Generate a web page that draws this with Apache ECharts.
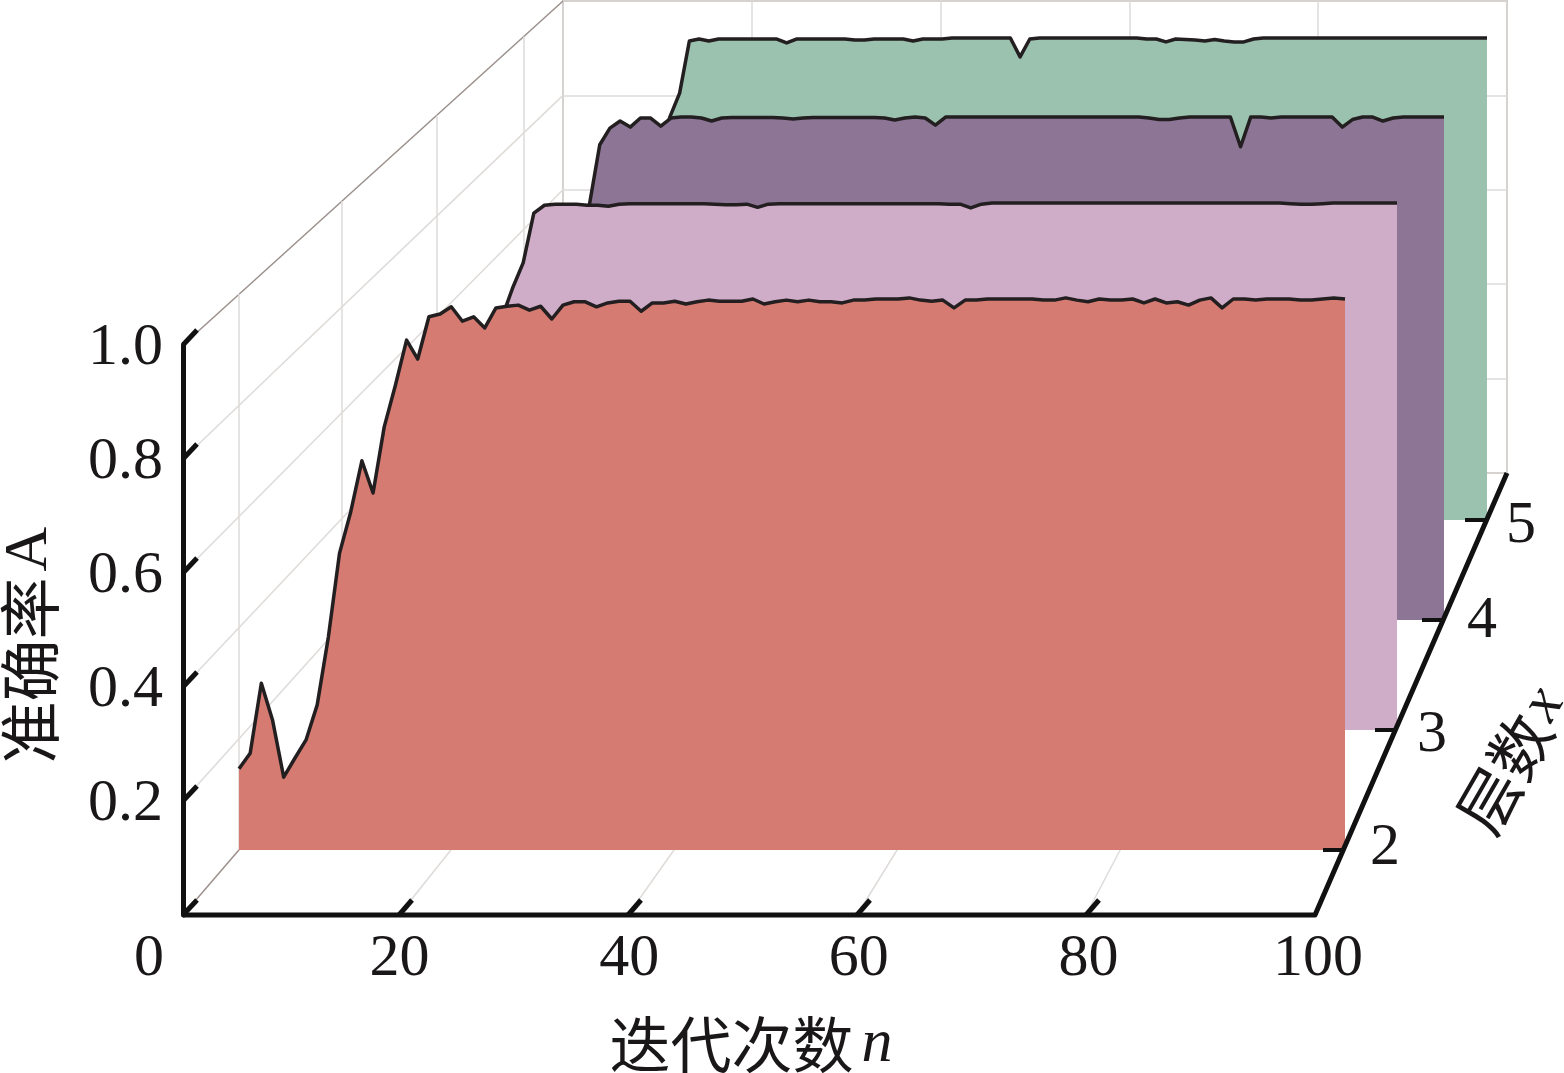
<!DOCTYPE html>
<html>
<head>
<meta charset="utf-8">
<style>html,body{margin:0;padding:0;background:#fff}#c{width:1564px;height:1073px}</style>
<script src="https://cdn.jsdelivr.net/npm/echarts@6/dist/echarts.min.js"></script>
</head>
<body>
<div id="c"></div>
<script>
const iterations = Array.from({length: 100}, (_, i) => i + 1);
const xTicks = [0, 20, 40, 60, 80, 100];
const yTicks = [0, 0.2, 0.4, 0.6, 0.8, 1.0];
const layerNames = ['2', '3', '4', '5'];

const layer2 = [
 .146,.174,.300,.234,.131,.165,.198,.261,.383,.534,
 .608,.700,.642,.761,.836,.917,.883,.959,.964,.977,
 .951,.959,.939,.975,.978,.980,.971,.978,.955,.980,
 .986,.986,.977,.984,.987,.987,.969,.984,.984,.987,
 .982,.986,.989,.987,.987,.987,.991,.982,.986,.989,
 .986,.989,.986,.986,.984,.989,.989,.991,.991,.991,
 .993,.989,.987,.989,.975,.989,.989,.991,.991,.991,
 .991,.991,.989,.989,.993,.989,.986,.991,.989,.989,
 .991,.984,.991,.984,.986,.980,.989,.993,.975,.991,
 .991,.989,.991,.991,.991,.989,.989,.991,.993,.991];
const layer3 = [
 .130,.160,.240,.200,.150,.200,.260,.340,.420,.500,
 .570,.620,.660,.700,.740,.779,.835,.883,.977,.992,
 .994,.994,.994,.992,.992,.990,.994,.995,.995,.995,
 .995,.995,.995,.995,.995,.994,.993,.993,.994,.988,
 .994,.995,.995,.995,.995,.995,.995,.995,.995,.995,
 .995,.995,.995,.995,.995,.995,.995,.994,.994,.987,
 .994,.996,.996,.996,.996,.996,.996,.996,.996,.996,
 .996,.996,.996,.996,.996,.996,.996,.996,.996,.996,
 .996,.996,.996,.996,.996,.996,.996,.996,.996,.995,
 .994,.994,.995,.996,.996,.996,.996,.996,.996,.996];
const layer4 = [
 .120,.160,.240,.200,.150,.200,.260,.330,.420,.520,
 .600,.660,.700,.740,.780,.825,.942,.975,.989,.977,
 .995,.995,.979,.995,.997,.997,.995,.989,.995,.996,
 .996,.996,.996,.996,.995,.993,.995,.996,.996,.996,
 .996,.996,.996,.996,.995,.991,.995,.997,.995,.981,
 .997,.997,.997,.997,.997,.997,.997,.997,.997,.997,
 .997,.997,.997,.997,.997,.997,.997,.997,.997,.997,
 .995,.992,.992,.995,.997,.997,.997,.997,.997,.938,
 .997,.997,.995,.997,.997,.997,.997,.997,.997,.977,
 .992,.997,.997,.989,.995,.997,.997,.997,.997,.997];
const layer5 = [
 .120,.160,.240,.200,.150,.200,.260,.340,.420,.500,
 .560,.620,.680,.720,.760,.834,.883,.991,.995,.991,
 .995,.995,.995,.995,.995,.995,.995,.987,.995,.995,
 .995,.995,.995,.995,.993,.993,.995,.995,.995,.995,
 .991,.995,.995,.995,.997,.997,.997,.997,.997,.997,
 .997,.958,.995,.997,.997,.997,.997,.997,.997,.997,
 .997,.997,.997,.997,.995,.995,.989,.995,.994,.993,
 .991,.994,.991,.989,.989,.995,.997,.997,.997,.997,
 .997,.997,.997,.997,.997,.997,.997,.997,.997,.997,
 .997,.997,.997,.997,.997,.997,.997,.997,.997,.997];

const colors = ['#D57B72', '#CFADC8', '#8D7596', '#9BC1AF'];
const seriesValues = [layer2, layer3, layer4, layer5];

// plane rectangles in depth order (front to back)
const planes = [
  {left: 239, right: 1345, top: 294, bottom: 850},
  {left: 342, right: 1397, top: 201, bottom: 730},
  {left: 437, right: 1444, top: 115.5, bottom: 620},
  {left: 524, right: 1487, top: 36.6, bottom: 520}
];
const W = 1564, H = 1073;
const ink = '#1A1718';
const front = {left: 183, scaleLeft: 170, right: 1315, labelRight: 1318, top: 345, bottom: 915};
const back = {left: 563, right: 1507, top: 1, bottom: 473};

const grids = [], xAxes = [], yAxes = [], series = [];
// back wall
grids.push({left: back.left, top: back.top, width: back.right - back.left, height: back.bottom - back.top,
  outerBoundsMode: 'none',
  show: true, borderColor: '#A89E9A', borderWidth: 1.5, backgroundColor: 'transparent'});
xAxes.push({gridIndex: 0, type: 'value', min: 0, max: 100, interval: 20,
  axisLine: {show: false}, axisTick: {show: false}, axisLabel: {show: false},
  splitLine: {show: true, lineStyle: {color: '#DEDBD9', width: 1.5}}});
yAxes.push({gridIndex: 0, type: 'value', min: 0, max: 1, interval: 0.2,
  axisLine: {show: false}, axisTick: {show: false}, axisLabel: {show: false},
  splitLine: {show: true, lineStyle: {color: '#DEDBD9', width: 1.5}}});

// data planes, from the back to the front
for (let k = 3; k >= 0; k--) {
  const p = planes[k], g = grids.length;
  grids.push({left: p.left, top: p.top, width: p.right - p.left, height: p.bottom - p.top, outerBoundsMode: 'none'});
  xAxes.push({gridIndex: g, type: 'category', boundaryGap: false, data: iterations, show: false});
  yAxes.push({gridIndex: g, type: 'value', min: 0, max: 1, show: false, splitLine: {show: false}});
  series.push({
    type: 'line', name: '层数' + layerNames[k], xAxisIndex: g, yAxisIndex: g,
    data: seriesValues[k], symbol: 'none', smooth: false, clip: false, z: 10 + (3 - k),
    lineStyle: {color: '#231F20', width: 3.5, join: 'round'},
    areaStyle: {color: colors[k], opacity: 1}
  });
}

// front axes
const fg = grids.length;
const serif = '"Liberation Serif", "Times New Roman", serif';
const cjk = '"Noto Sans CJK SC", sans-serif';
grids.push({left: front.scaleLeft, top: front.top, width: front.labelRight - front.scaleLeft, height: front.bottom - front.top,
  outerBoundsMode: 'none'});
xAxes.push({gridIndex: fg, type: 'value', min: 0, max: 100, interval: 20, z: 60,
  axisLine: {show: false}, axisTick: {show: false}, splitLine: {show: false},
  axisLabel: {margin: 14, color: ink, fontFamily: serif, fontSize: 60, hideOverlap: false,
    formatter: v => v === 0 ? '{z|0}' : String(v),
    rich: {z: {fontFamily: serif, fontSize: 60, color: ink, padding: [0, 42, 0, 0]}}},
  name: '{c|迭代次数}{i|n}', nameLocation: 'middle', nameGap: 99,
  nameTextStyle: {padding: [0, 0, 0, 14], rich: {
    c: {fontFamily: cjk, fontSize: 61, color: ink},
    i: {fontFamily: serif, fontStyle: 'italic', fontSize: 62, color: ink, padding: [0, 0, 0, 8]}}}
});
yAxes.push({gridIndex: fg, type: 'value', min: 0, max: 1, interval: 0.2, z: 60, offset: -13,
  axisLine: {show: true, onZero: false, lineStyle: {color: '#111', width: 5}},
  axisTick: {show: false}, splitLine: {show: false},
  axisLabel: {margin: 20, color: ink, fontFamily: serif, fontSize: 60,
    formatter: v => v === 0 ? '' : '{t|' + v.toFixed(1) + '}',
    rich: {t: {fontFamily: serif, fontSize: 60, color: ink, padding: [7, 0, 0, 0]}}},
  name: '{c|准确率}{i|A}', nameLocation: 'middle', nameGap: 122,
  nameTextStyle: {padding: [0, 30, 0, 0], rich: {
    c: {fontFamily: cjk, fontSize: 62, color: ink},
    i: {fontFamily: serif, fontSize: 62, color: ink, padding: [0, 0, 0, 6]}}}
});

// projected furniture of the box
const gfx = [];
const line = (x1, y1, x2, y2, color, width, z) => gfx.push({type: 'line', z, silent: true,
  shape: {x1, y1, x2, y2}, style: {stroke: color, lineWidth: width, lineCap: 'butt'}});
const yFront = v => front.bottom - v * (front.bottom - front.top);
const yBack = v => 473 - v * 472;
const xFront = n => front.scaleLeft + n / 100 * (front.right - front.scaleLeft);
const xBack = n => back.left + n / 100 * (back.right - back.left);
yTicks.forEach(v => {
  const edge = v === 0 || v === 1;
  line(183, yFront(v), back.left, yBack(v), edge ? '#9A908C' : '#DEDBD9', 1.5, 1);
  line(183, yFront(v), 197, yFront(v) - 15, '#111', 5, 50);
});
xTicks.slice(1).forEach(n => {
  line(xFront(n), front.bottom, xBack(n), back.bottom, '#DEDBD9', 1.5, 1);
  if (n < 100) line(xFront(n), front.bottom, xFront(n) + 13, front.bottom - 15, '#111', 5, 50);
});
planes.forEach(p => line(p.left, p.top, p.left, p.bottom, '#DEDBD9', 1.5, 1));
gfx.push({type: 'polyline', z: 50, silent: true,
  shape: {points: [[183, front.bottom], [front.right, front.bottom], [back.right, back.bottom]]},
  style: {stroke: '#111', lineWidth: 5, fill: 'none', lineJoin: 'round'}});
planes.forEach((p, i) => {
  line(p.right - 22, p.bottom, p.right, p.bottom, '#111', 4, 50);
});
const layerLabelPos = [[1385, 848], [1432, 735], [1482, 621], [1521, 526]];
layerNames.forEach((t, i) => gfx.push({type: 'text', z: 50, silent: true,
  x: layerLabelPos[i][0], y: layerLabelPos[i][1],
  style: {text: t, fontFamily: serif, fontSize: 60, fill: ink, align: 'center', verticalAlign: 'middle'}}));
gfx.push({type: 'text', z: 50, silent: true, x: 1512, y: 760, rotation: 60 * Math.PI / 180,
  style: {text: '{c|层数}{i|x}', align: 'center', verticalAlign: 'middle', fill: ink,
    rich: {c: {fontFamily: cjk, fontSize: 62, fill: ink},
           i: {fontFamily: serif, fontStyle: 'italic', fontSize: 60, fill: ink, padding: [0, 0, 0, 4]}}}});

const chart = echarts.init(document.getElementById('c'), null, {renderer: 'canvas', width: W, height: H});
chart.setOption({
  animation: false, backgroundColor: '#fff',
  tooltip: {show: false},
  grid: grids, xAxis: xAxes, yAxis: yAxes, series: series, graphic: {elements: gfx}
});
</script>
</body>
</html>
